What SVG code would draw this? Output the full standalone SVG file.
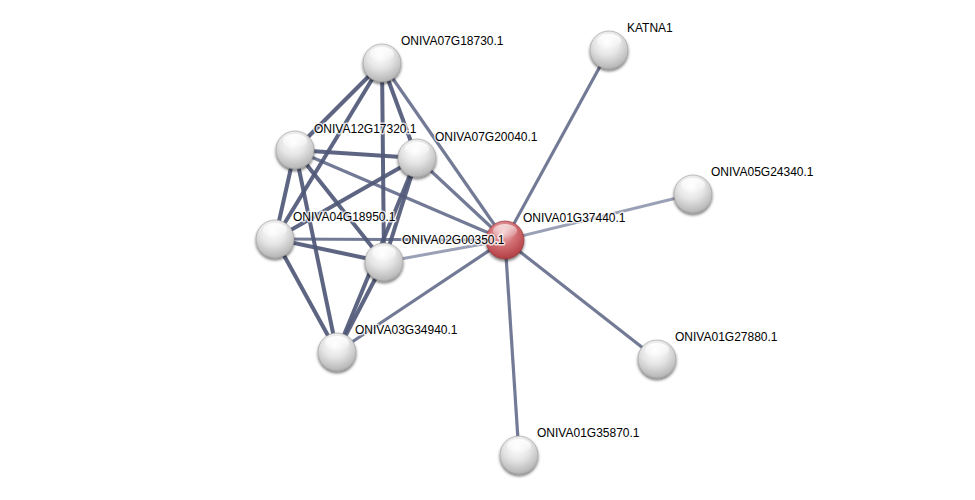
<svg xmlns="http://www.w3.org/2000/svg" width="975" height="500" viewBox="0 0 975 500">
<defs>
<radialGradient id="gw" cx="0.45" cy="0.3" r="0.75">
<stop offset="0" stop-color="#ffffff"/>
<stop offset="0.45" stop-color="#e6e6e6"/>
<stop offset="0.85" stop-color="#bdbdbd"/>
<stop offset="1" stop-color="#a8a8a8"/>
</radialGradient>
<radialGradient id="gr" cx="0.45" cy="0.3" r="0.75">
<stop offset="0" stop-color="#f3c6c8"/>
<stop offset="0.45" stop-color="#d27075"/>
<stop offset="0.85" stop-color="#b8474d"/>
<stop offset="1" stop-color="#a03a40"/>
</radialGradient>
<linearGradient id="hl" x1="0" y1="0" x2="0" y2="1">
<stop offset="0" stop-color="#fff" stop-opacity="0.95"/>
<stop offset="1" stop-color="#fff" stop-opacity="0.1"/>
</linearGradient>
<filter id="sh" x="-50%" y="-50%" width="200%" height="200%">
<feGaussianBlur in="SourceAlpha" stdDeviation="1.5"/>
<feOffset dx="0" dy="2" result="b"/>
<feComponentTransfer><feFuncA type="linear" slope="0.55"/></feComponentTransfer>
<feMerge><feMergeNode/><feMergeNode in="SourceGraphic"/></feMerge>
</filter>
</defs>
<style>
.e{fill:none;stroke-linecap:butt}
.s{stroke:#4f5877;stroke-width:4;stroke-opacity:0.92}
.m{stroke:#646c89;stroke-width:3.2;stroke-opacity:0.9}
.w{stroke:#8f96ad;stroke-width:3;stroke-opacity:0.9}
.n{fill:url(#gw);stroke:#9a9a9a;stroke-width:0.6;filter:url(#sh)}
.r{fill:url(#gr);stroke:#8e3036;stroke-width:0.6;filter:url(#sh)}
.h{fill:url(#hl)}
text{font-family:"Liberation Sans",Arial,sans-serif;font-size:12px;fill:#000;stroke:#fff;stroke-width:3;stroke-opacity:0.75;paint-order:stroke;stroke-linejoin:round}
</style>
<g id="edges">
<line class="e m" x1="505" y1="240" x2="609" y2="50"/>
<line class="e w" x1="505" y1="240" x2="693" y2="194"/>
<line class="e m" x1="505" y1="240" x2="657" y2="359"/>
<line class="e m" x1="505" y1="240" x2="519" y2="455"/>
<line class="e w" x1="505" y1="240" x2="384" y2="262"/>
<line class="e m" x1="505" y1="240" x2="337" y2="352"/>
<line class="e m" x1="505" y1="240" x2="275" y2="239"/>
<line class="e m" x1="505" y1="240" x2="295" y2="150"/>
<line class="e m" x1="505" y1="240" x2="417" y2="158"/>
<line class="e m" x1="505" y1="240" x2="382" y2="63"/>
<line class="e s" x1="382" y1="63" x2="295" y2="150"/>
<line class="e s" x1="382" y1="63" x2="417" y2="158"/>
<line class="e s" x1="382" y1="63" x2="275" y2="239"/>
<line class="e s" x1="382" y1="63" x2="384" y2="262"/>
<line class="e s" x1="295" y1="150" x2="417" y2="158"/>
<line class="e s" x1="295" y1="150" x2="275" y2="239"/>
<line class="e s" x1="295" y1="150" x2="384" y2="262"/>
<line class="e s" x1="295" y1="150" x2="337" y2="352"/>
<line class="e s" x1="417" y1="158" x2="275" y2="239"/>
<line class="e s" x1="417" y1="158" x2="384" y2="262"/>
<line class="e s" x1="417" y1="158" x2="337" y2="352"/>
<line class="e s" x1="275" y1="239" x2="384" y2="262"/>
<line class="e s" x1="275" y1="239" x2="337" y2="352"/>
<line class="e s" x1="384" y1="262" x2="337" y2="352"/>
</g>
<g id="ONIVA01G37440.1"><circle class="r" cx="505" cy="240" r="19"/><ellipse class="h" cx="505" cy="231" rx="12" ry="7" opacity="0.7"/><text x="523" y="222">ONIVA01G37440.1</text></g>
<g id="ONIVA07G18730.1"><circle class="n" cx="382" cy="63" r="19"/><ellipse class="h" cx="382" cy="54" rx="12" ry="7"/><text x="401" y="45">ONIVA07G18730.1</text></g>
<g id="ONIVA12G17320.1"><circle class="n" cx="295" cy="150" r="19"/><ellipse class="h" cx="295" cy="141" rx="12" ry="7"/><text x="314" y="133">ONIVA12G17320.1</text></g>
<g id="ONIVA07G20040.1"><circle class="n" cx="417" cy="158" r="19"/><ellipse class="h" cx="417" cy="149" rx="12" ry="7"/><text x="435" y="141">ONIVA07G20040.1</text></g>
<g id="ONIVA04G18950.1"><circle class="n" cx="275" cy="239" r="19"/><ellipse class="h" cx="275" cy="230" rx="12" ry="7"/><text x="293" y="221">ONIVA04G18950.1</text></g>
<g id="ONIVA02G00350.1"><circle class="n" cx="384" cy="262" r="19"/><ellipse class="h" cx="384" cy="253" rx="12" ry="7"/><text x="402" y="244">ONIVA02G00350.1</text></g>
<g id="ONIVA03G34940.1"><circle class="n" cx="337" cy="352" r="19"/><ellipse class="h" cx="337" cy="343" rx="12" ry="7"/><text x="355" y="334">ONIVA03G34940.1</text></g>
<g id="KATNA1"><circle class="n" cx="609" cy="50" r="19"/><ellipse class="h" cx="609" cy="41" rx="12" ry="7"/><text x="627" y="32">KATNA1</text></g>
<g id="ONIVA05G24340.1"><circle class="n" cx="693" cy="194" r="19"/><ellipse class="h" cx="693" cy="185" rx="12" ry="7"/><text x="711" y="176">ONIVA05G24340.1</text></g>
<g id="ONIVA01G27880.1"><circle class="n" cx="657" cy="359" r="19"/><ellipse class="h" cx="657" cy="350" rx="12" ry="7"/><text x="675" y="341">ONIVA01G27880.1</text></g>
<g id="ONIVA01G35870.1"><circle class="n" cx="519" cy="455" r="19"/><ellipse class="h" cx="519" cy="446" rx="12" ry="7"/><text x="537" y="437">ONIVA01G35870.1</text></g>
</svg>
